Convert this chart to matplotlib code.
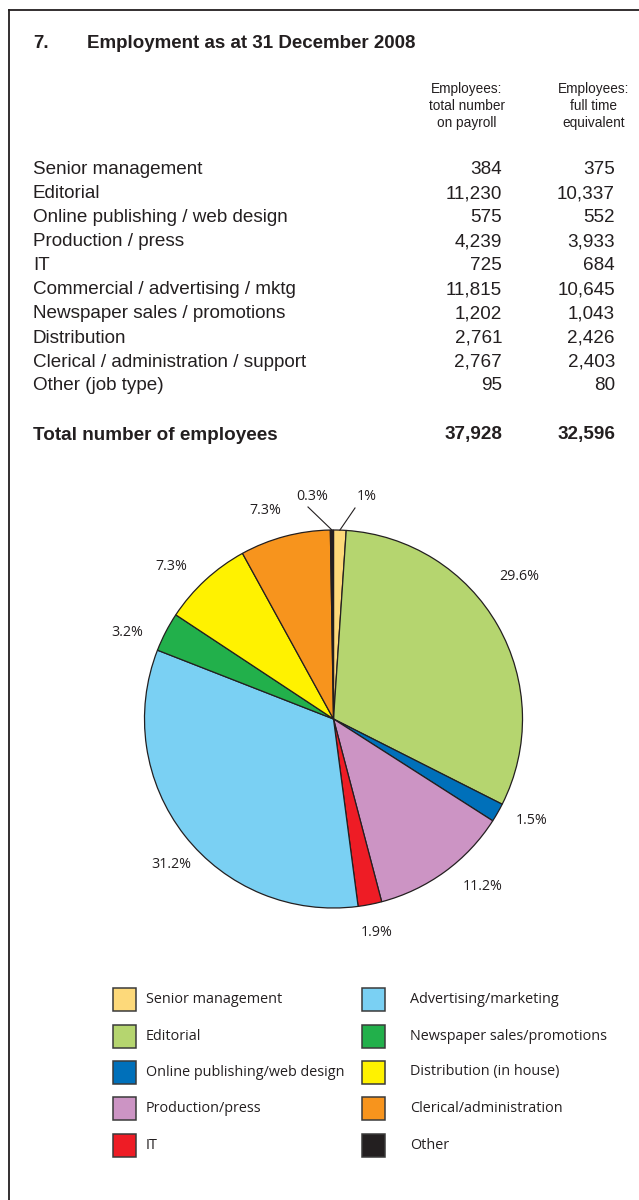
import numpy as np
import matplotlib
matplotlib.use("Agg")
import matplotlib.pyplot as plt
from matplotlib.patches import Rectangle
from matplotlib.lines import Line2D

# ---- data -------------------------------------------------------------
job_types = [
    "Senior management",
    "Editorial",
    "Online publishing / web design",
    "Production / press",
    "IT",
    "Commercial / advertising / mktg",
    "Newspaper sales / promotions",
    "Distribution",
    "Clerical / administration / support",
    "Other (job type)",
]
payroll = [384, 11230, 575, 4239, 725, 11815, 1202, 2761, 2767, 95]
full_time_eq = [375, 10337, 552, 3933, 684, 10645, 1043, 2426, 2403, 80]
total_payroll = 37928
total_fte = 32596

legend_labels = [
    "Senior management",
    "Editorial",
    "Online publishing/web design",
    "Production/press",
    "IT",
    "Advertising/marketing",
    "Newspaper sales/promotions",
    "Distribution (in house)",
    "Clerical/administration",
    "Other",
]
colors = ["#FDD97A", "#B5D56F", "#0070BA", "#CC94C4", "#EE1C25",
          "#7AD0F3", "#22B04B", "#FFF200", "#F7941D", "#231F20"]

# percentage label placement around the pie (pixels, figure space)
label_px = [(367, 497), (519, 577), (532, 820), (483, 887), (377, 932),
            (171, 865), (127, 632), (171, 566), (265, 510), (312, 497)]
# wedges whose label is attached with a leader line -> line end (pixels)
leaders = {0: (355, 508), 9: (308, 507)}

# ---- figure -------------------------------------------------------------
W, H = 639, 1200
fig = plt.figure(figsize=(W / 100, H / 100), dpi=100)
fig.patch.set_facecolor("white")

def fx(x):
    return x / W

def fy(y):
    return 1 - y / H

INK = "#231F20"
TABLE_FONT = ["Liberation Sans", "DejaVu Sans"]
PIE_FONT = ["Open Sans", "DejaVu Sans"]

# frame (top and left rules)
fig.add_artist(Line2D([fx(9), fx(9)], [fy(10), fy(1200)], color=INK, lw=1.3))
fig.add_artist(Line2D([fx(9), fx(639)], [fy(10), fy(10)], color=INK, lw=1.3))

# title
fig.text(fx(33), fy(43), "7.", family=TABLE_FONT, fontsize=13.5,
         fontweight="bold", color=INK, va="center")
fig.text(fx(87), fy(43), "Employment as at 31 December 2008", family=TABLE_FONT,
         fontsize=13.5, fontweight="bold", color=INK, va="center")

# column headers
headers = ["Employees:\ntotal number\non payroll", "Employees:\nfull time\nequivalent"]
for hx, h in zip([467, 594], headers):
    fig.text(fx(hx), fy(106), h, family=TABLE_FONT, fontsize=9.8, color=INK,
             ha="center", va="center", linespacing=1.3)

# table rows
FS = 13.6
row_y0, row_step = 170, 24
for i, (name, a, b) in enumerate(zip(job_types, payroll, full_time_eq)):
    y = fy(row_y0 + i * row_step)
    fig.text(fx(33), y, name, family=TABLE_FONT, fontsize=FS, color=INK, va="center")
    fig.text(fx(502), y, f"{a:,}", family=TABLE_FONT, fontsize=FS, color=INK,
             va="center", ha="right")
    fig.text(fx(615), y, f"{b:,}", family=TABLE_FONT, fontsize=FS, color=INK,
             va="center", ha="right")

y_tot = fy(435)
fig.text(fx(33), y_tot, "Total number of employees", family=TABLE_FONT, fontsize=FS,
         fontweight="bold", color=INK, va="center")
fig.text(fx(502), y_tot, f"{total_payroll:,}", family=TABLE_FONT, fontsize=FS,
         fontweight="bold", color=INK, va="center", ha="right")
fig.text(fx(615), y_tot, f"{total_fte:,}", family=TABLE_FONT, fontsize=FS,
         fontweight="bold", color=INK, va="center", ha="right")

# ---- pie ------------------------------------------------------------------
cx, cy, r = 333.5, 719, 189
ax = fig.add_axes([fx(cx - r), fy(cy + r), 2 * r / W, 2 * r / H])
wedges, _ = ax.pie(payroll, colors=colors, startangle=90, counterclock=False,
                   radius=1, wedgeprops=dict(edgecolor=INK, linewidth=0.9))
ax.set_xlim(-1, 1)
ax.set_ylim(-1, 1)
ax.axis("off")

def to_data(px, py):
    return (px - cx) / r, (cy - py) / r

def pct_text(v):
    s = f"{v / total_payroll * 100:.1f}"
    if s.endswith(".0"):
        s = s[:-2]
    return s + "%"

for i, (w, v) in enumerate(zip(wedges, payroll)):
    lx, ly = to_data(*label_px[i])
    ax.text(lx, ly, pct_text(v), family=PIE_FONT, fontsize=10.3, color=INK,
            ha="center", va="center", clip_on=False)
    if i in leaders:
        mid = np.deg2rad((w.theta1 + w.theta2) / 2)
        ex, ey = to_data(*leaders[i])
        ax.add_line(Line2D([np.cos(mid), ex], [np.sin(mid), ey], color=INK,
                           lw=0.8, clip_on=False))

# ---- legend ---------------------------------------------------------------
box = 23
leg_rows = [999.5, 1036, 1072, 1108.5, 1145.5]
leg_cols = [(113, 146), (362, 410)]
for i, (lab, col) in enumerate(zip(legend_labels, colors)):
    c, rrow = divmod(i, 5)
    bx, tx = leg_cols[c]
    y = leg_rows[rrow]
    fig.add_artist(Rectangle((fx(bx), fy(y + box / 2)), box / W, box / H,
                             facecolor=col, edgecolor="#3a3a3a", lw=1.1,
                             transform=fig.transFigure))
    fig.text(fx(tx), fy(y), lab, family=PIE_FONT, fontsize=10.4, color=INK,
             va="center", ha="left")

fig.savefig("out.png", dpi=100)
